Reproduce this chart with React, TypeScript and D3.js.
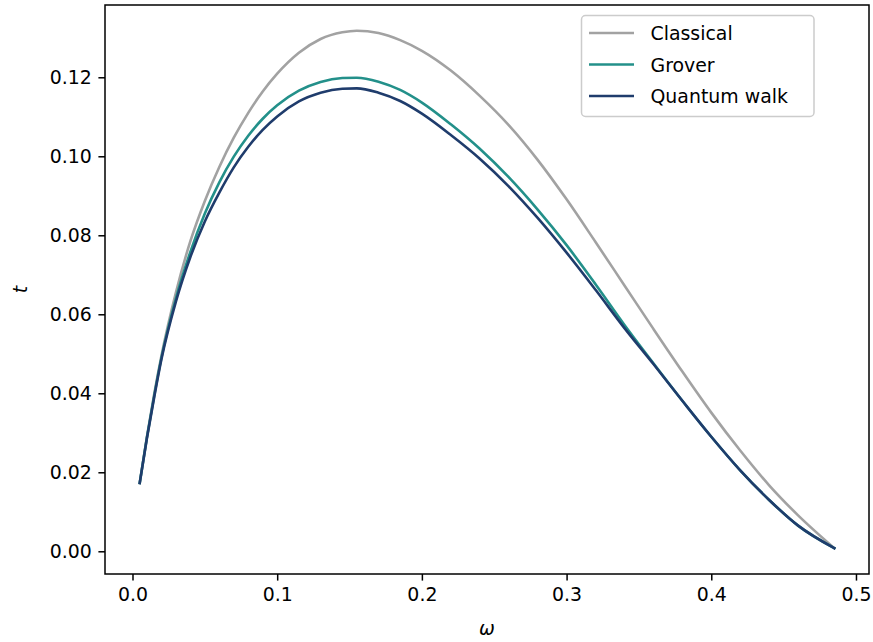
import React, { useEffect, useRef } from "react";
import { select, scaleLinear, line, curveMonotoneX, axisBottom, axisLeft } from "d3";

// frequencies
const omega = [
  0.005, 0.01, 0.015, 0.02, 0.03, 0.04, 0.05, 0.06, 0.07, 0.08, 0.09, 0.1, 0.115, 0.13,
  0.145, 0.155, 0.17, 0.185, 0.2, 0.22, 0.24, 0.26, 0.28, 0.3, 0.32, 0.34, 0.36, 0.38,
  0.4, 0.42, 0.44, 0.46, 0.485,
];

const classical = [
  0.0173, 0.029, 0.0398, 0.0495, 0.0655, 0.0785, 0.0887, 0.0973, 0.1047, 0.111, 0.1164,
  0.1209, 0.1262, 0.1297, 0.1314, 0.1318, 0.1312, 0.1294, 0.1267, 0.1217, 0.1153, 0.1079,
  0.0991, 0.0891, 0.0783, 0.0673, 0.0563, 0.0455, 0.0351, 0.0255, 0.0167, 0.0091, 0.0008,
];

const grover = [
  0.0173, 0.0289, 0.0394, 0.049, 0.064, 0.0758, 0.0855, 0.0934, 0.0999, 0.1052, 0.1095,
  0.1129, 0.1166, 0.1188, 0.1198, 0.1199, 0.1189, 0.1168, 0.1136, 0.1081, 0.1019, 0.0947,
  0.0865, 0.0775, 0.0676, 0.0573, 0.0476, 0.0381, 0.029, 0.0205, 0.013, 0.0065, 0.0008,
];

const quantumWalk = [
  0.0173, 0.0287, 0.039, 0.0486, 0.0632, 0.0745, 0.0835, 0.0908, 0.0972, 0.1024, 0.1067,
  0.1101, 0.1139, 0.1161, 0.1171, 0.1172, 0.1161, 0.114, 0.1108, 0.1054, 0.0994, 0.0924,
  0.0844, 0.0756, 0.0662, 0.0565, 0.0474, 0.0381, 0.029, 0.0205, 0.013, 0.0065, 0.0008,
];

const seriesNames = ["Classical", "Grover", "Quantum walk"];
const seriesColors = ["#a2a2a2", "#23908a", "#1f3c6c"];
const xTicks = [0.0, 0.1, 0.2, 0.3, 0.4, 0.5];
const yTicks = [0.0, 0.02, 0.04, 0.06, 0.08, 0.1, 0.12];

const W = 873;
const H = 642;
const margin = { left: 105, right: 4, top: 5, bottom: 68 };
const FONT = "DejaVu Sans, sans-serif";
const FS = 18.9;

const App = () => {
  const svgRef = useRef<SVGSVGElement>(null);

  useEffect(() => {
    const svg = select(svgRef.current);
    svg.selectAll("*").remove();

    const x = scaleLinear().domain([-0.019, 0.509]).range([margin.left, W - margin.right]);
    const y = scaleLinear().domain([-0.00575, 0.1383]).range([H - margin.bottom, margin.top]);

    const all = [classical, grover, quantumWalk];

    const gen = line<number>()
      .x((_, i) => x(omega[i]))
      .y((d) => y(d))
      .curve(curveMonotoneX);

    const plot = svg.append("g");
    all.forEach((s, k) => {
      plot
        .append("path")
        .attr("d", gen(s))
        .attr("fill", "none")
        .attr("stroke", seriesColors[k])
        .attr("stroke-width", 2.6)
        .attr("stroke-linecap", "square");
    });

    // axes
    const xAxis = axisBottom(x)
      .tickValues(xTicks)
      .tickFormat((d) => (d as number).toFixed(1))
      .tickSize(6.6)
      .tickPadding(6.6);
    const gx = svg
      .append("g")
      .attr("transform", `translate(0,${H - margin.bottom})`)
      .call(xAxis);

    const yAxis = axisLeft(y)
      .tickValues(yTicks)
      .tickFormat((d) => (d as number).toFixed(2))
      .tickSize(6.6)
      .tickPadding(6.6);
    const gy = svg.append("g").attr("transform", `translate(${margin.left},0)`).call(yAxis);

    [gx, gy].forEach((g) => {
      g.select(".domain").remove();
      g.selectAll(".tick line").attr("stroke", "#000").attr("stroke-width", 1.5);
      g.selectAll(".tick text")
        .attr("fill", "#000")
        .style("font-family", FONT)
        .style("font-size", `${FS}px`);
    });

    // frame
    svg
      .append("rect")
      .attr("x", margin.left)
      .attr("y", margin.top)
      .attr("width", W - margin.left - margin.right)
      .attr("height", H - margin.top - margin.bottom)
      .attr("fill", "none")
      .attr("stroke", "#000")
      .attr("stroke-width", 1.5);

    // axis labels
    svg
      .append("text")
      .attr("x", (margin.left + W - margin.right) / 2)
      .attr("y", 635)
      .attr("text-anchor", "middle")
      .style("font-family", FONT)
      .style("font-style", "italic")
      .style("font-size", `${FS}px`)
      .text("ω");

    svg
      .append("text")
      .attr("transform", `translate(27,${(margin.top + H - margin.bottom) / 2}) rotate(-90)`)
      .attr("text-anchor", "middle")
      .style("font-family", FONT)
      .style("font-style", "italic")
      .style("font-size", `${FS}px`)
      .text("t");

    // legend
    const lg = svg.append("g");
    lg.append("rect")
      .attr("x", 581.5)
      .attr("y", 15.5)
      .attr("width", 232.5)
      .attr("height", 101)
      .attr("rx", 4)
      .attr("fill", "#fff")
      .attr("fill-opacity", 0.8)
      .attr("stroke", "#cccccc")
      .attr("stroke-width", 1.5);

    seriesNames.forEach((name, k) => {
      const cy = 33 + k * 31.5;
      lg.append("line")
        .attr("x1", 589)
        .attr("x2", 634)
        .attr("y1", cy)
        .attr("y2", cy)
        .attr("stroke", seriesColors[k])
        .attr("stroke-width", 2.6);
      lg.append("text")
        .attr("x", 650.5)
        .attr("y", cy + 7)
        .style("font-family", FONT)
        .style("font-size", `${FS}px`)
        .attr("fill", "#000")
        .text(name);
    });
  }, []);

  return (
    <svg
      ref={svgRef}
      width={W}
      height={H}
      style={{ position: "absolute", left: 0, top: 0, background: "#fff" }}
    />
  );
};

export default App;
